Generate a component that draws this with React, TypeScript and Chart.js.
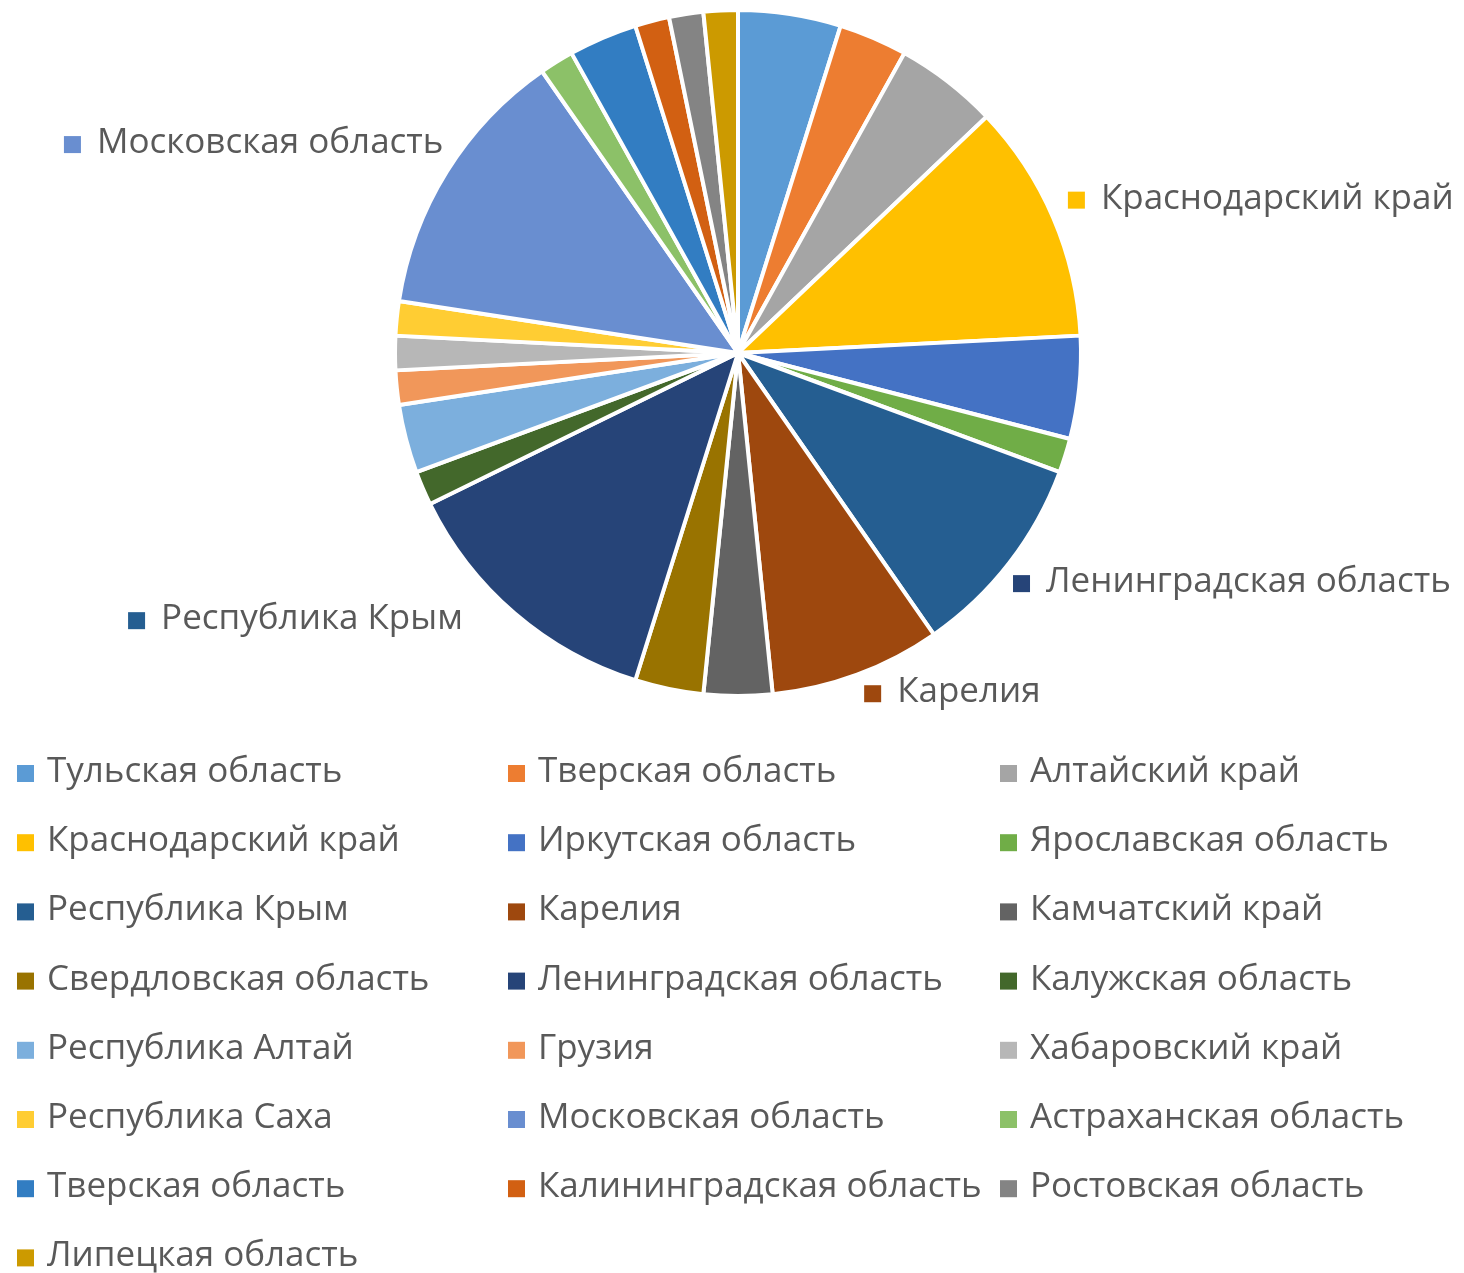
import React, { useEffect, useRef } from "react";
import { Chart, registerables } from "chart.js";

Chart.register(...registerables);

const categories: string[] = [
  "Тульская область",
  "Тверская область",
  "Алтайский край",
  "Краснодарский край",
  "Иркутская область",
  "Ярославская область",
  "Республика Крым",
  "Карелия",
  "Камчатский край",
  "Свердловская область",
  "Ленинградская область",
  "Калужская область",
  "Республика Алтай",
  "Грузия",
  "Хабаровский край",
  "Республика Саха",
  "Московская область",
  "Астраханская область",
  "Тверская область",
  "Калининградская область",
  "Ростовская область",
  "Липецкая область",
];

const values: number[] = [3, 2, 3, 7, 3, 1, 6, 5, 2, 2, 8, 1, 2, 1, 1, 1, 8, 1, 2, 1, 1, 1];

const colors: string[] = [
  "#5B9BD5", "#ED7D31", "#A5A5A5", "#FFC000", "#4472C4", "#70AD47",
  "#255E91", "#9E480E", "#636363", "#997300", "#264478", "#43682B",
  "#7CAFDD", "#F1975A", "#B7B7B7", "#FFCD33", "#698ED0", "#8CC168",
  "#327DC2", "#D26012", "#848484", "#CC9A00",
];

// outside labels: category index and text position relative to pie center, in radius units
const labelIndex: number[] = [16, 3, 10, 6, 7];
const labelDX: number[] = [-1.869, 1.058, 0.898, -1.682, 0.464];
const labelDY: number[] = [-0.612, -0.45, 0.668, 0.776, 0.989];

const FONT = '35px "Open Sans", sans-serif';
const TEXT_COLOR = "#595959";
const MARK = 17;

const W = 1464;
const H = 1273;

export default function App() {
  const ref = useRef<HTMLCanvasElement | null>(null);

  useEffect(() => {
    document.body.style.margin = "0";
    if (!ref.current) return;

    const overlay = {
      id: "overlay",
      afterDraw(chart: any) {
        const ctx = chart.ctx;
        const meta = chart.getDatasetMeta(0);
        const arc0 = meta.data[0];
        const cx = arc0.x;
        const cy = arc0.y;
        const r = arc0.outerRadius;
        ctx.save();
        ctx.font = FONT;
        ctx.textBaseline = "middle";
        ctx.textAlign = "left";
        // slice labels
        labelIndex.forEach((idx, k) => {
          const x = cx + labelDX[k] * r;
          const y = cy + labelDY[k] * r;
          ctx.fillStyle = colors[idx];
          ctx.fillRect(x - 33, y - 7, MARK, MARK);
          ctx.fillStyle = TEXT_COLOR;
          ctx.fillText(categories[idx], x, y);
        });
        // legend grid
        const colX = [17, 508, 1000];
        const top = 772;
        const rowH = 69.2;
        categories.forEach((name, i) => {
          const col = i % 3;
          const row = Math.floor(i / 3);
          const x = colX[col];
          const y = top + row * rowH;
          ctx.fillStyle = colors[i];
          ctx.fillRect(x, y - 7, MARK, MARK);
          ctx.fillStyle = TEXT_COLOR;
          ctx.fillText(name, x + 30, y);
        });
        ctx.restore();
      },
    };

    const chart = new Chart(ref.current, {
      type: "pie",
      data: {
        labels: categories,
        datasets: [
          {
            data: values,
            backgroundColor: colors,
            borderColor: "#FFFFFF",
            borderWidth: 4,
            hoverOffset: 0,
            offset: 0,
          },
        ],
      },
      options: {
        responsive: false,
        animation: false,
        layout: { padding: { left: 393, right: W - 393 - 690, top: 8, bottom: H - 8 - 690 } },
        plugins: {
          legend: { display: false },
          tooltip: { enabled: false },
        },
      },
      plugins: [overlay],
    });

    return () => chart.destroy();
  }, []);

  return (
    <div style={{ width: W, height: H }}>
      <canvas ref={ref} width={W} height={H} style={{ display: "block", width: W, height: H }} />
    </div>
  );
}
